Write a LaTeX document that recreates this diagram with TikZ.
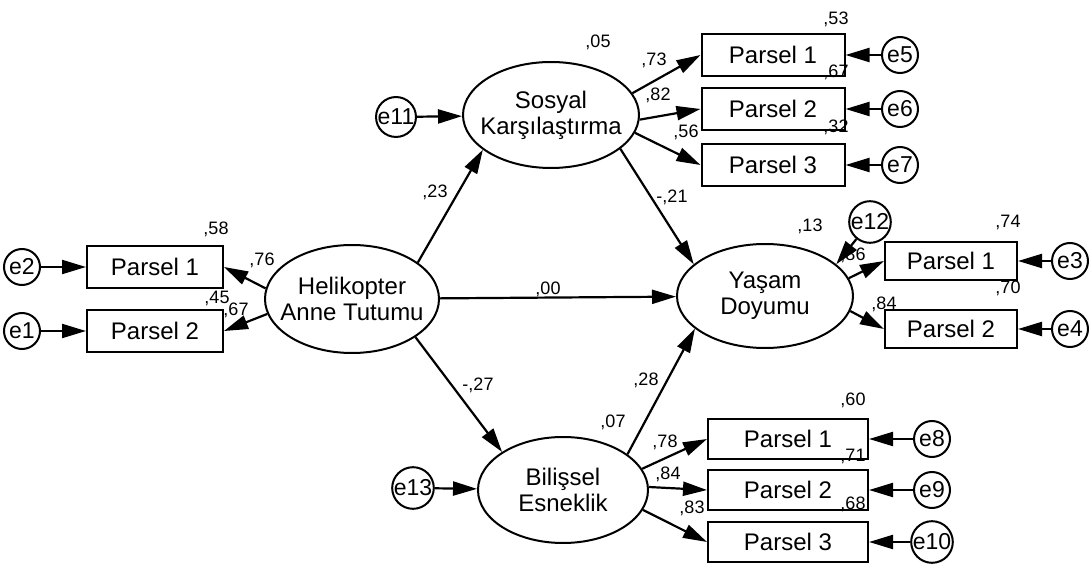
\documentclass[tikz,border=0pt]{standalone}
\usepackage{fontspec}
\setmainfont{Liberation Sans}
\usetikzlibrary{arrows.meta,shapes.geometric}

\begin{document}
\begin{tikzpicture}[x=0.5pt,y=-0.5pt,
	latent/.style={draw,ellipse,line width=1pt,align=center,inner xsep=-45pt,inner ysep=0pt,font=\fontsize{12}{13}\selectfont},
	obs/.style={draw,rectangle,line width=1pt,minimum width=68pt,minimum height=20pt,inner sep=0pt,font=\fontsize{12}{13}\selectfont},
	err/.style={draw,circle,line width=1pt,minimum size=18pt,inner sep=0pt,font=\fontsize{11.5}{12}\selectfont},
	coef/.style={inner sep=0pt,font=\fontsize{9}{10}\selectfont},
	arr/.style={line width=1.1pt,-{Triangle[length=12pt,width=7pt]}}]
		\path[use as bounding box] (0,0) rectangle (1089,567);
		
		% latent variables
		\node[latent,minimum width=87pt,minimum height=54pt] (hel) at (352,299) {Helikopter\\Anne Tutumu};
		\node[latent,minimum width=88pt,minimum height=53pt] (sos) at (551,115) {Sosyal\\Karşılaştırma};
		\node[latent,minimum width=88pt,minimum height=52pt] (yas) at (765,296) {Yaşam\\Doyumu};
		\node[latent,minimum width=85pt,minimum height=53pt] (bil) at (563,490) {Bilişsel\\Esneklik};
		
		% Helikopter Anne Tutumu
		\node[obs,minimum height=21pt] (hp1) at (155,267) {Parsel 1};
		\node[obs,minimum height=21pt] (hp2) at (155,331) {Parsel 2};
		\node[err] (e2) at (22,267) {e2};
		\node[err] (e1) at (22,331) {e1};
		\draw[arr] (e2) -- (hp1);
		\draw[arr] (e1) -- (hp2);
		\draw[arr] (hel.173) -- (hp1.east);
		\draw[arr] (hel.-170) -- (hp2.east);
		\node[coef] (r2hp1) at (216,229) {,58};
		\node[coef] (lhp1) at (262,260) {,76};
		\node[coef] (r2hp2) at (217,298) {,45};
		\node[coef] (lhp2) at (236,310) {,67};
		
		% Sosyal Karsilastirma
		\node[obs,minimum width=71.5pt,minimum height=21pt] (sp1) at (773,55) {Parsel 1};
		\node[obs,minimum width=71.5pt,minimum height=21pt] (sp2) at (773,109) {Parsel 2};
		\node[obs,minimum width=71.5pt,minimum height=21pt] (sp3) at (773,165) {Parsel 3};
		\node[err] (e5) at (900,55) {e5};
		\node[err] (e6) at (900,109) {e6};
		\node[err] (e7) at (900,165) {e7};
		\node[err] (e11) at (396,117) {e11};
		\draw[arr] (e5) -- (sp1);
		\draw[arr] (e6) -- (sp2);
		\draw[arr] (e7) -- (sp3);
		\draw[arr] (e11) -- (sos);
		\draw[arr] (sos.15) -- (sp1.west);
		\draw[arr] (sos.-3) -- (sp2.west);
		\draw[arr] (sos.-12) -- (sp3.west);
		\node[coef] (r2sos) at (598,42) {,05};
		\node[coef] (lsp1) at (654,60) {,73};
		\node[coef] (lsp2) at (658,95) {,82};
		\node[coef] (lsp3) at (686,132) {,56};
		\node[coef] (r2sp1) at (836,19) {,53};
		\node[coef] (r2sp2) at (836,72) {,67};
		\node[coef] (r2sp3) at (836,127) {,32};
		
		% Yasam Doyumu
		\node[obs,minimum width=66pt,minimum height=19pt] (yp1) at (951,261) {Parsel 1};
		\node[obs,minimum width=66pt,minimum height=19pt] (yp2) at (951,329) {Parsel 2};
		\node[err] (e3) at (1070,261) {e3};
		\node[err] (e4) at (1070,329) {e4};
		\node[err,minimum size=20pt] (e12) at (870,222) {e12};
		\draw[arr] (e3) -- (yp1);
		\draw[arr] (e4) -- (yp2);
		\draw[arr] (e12) -- (yas.24);
		\draw[arr] (yas.12) -- (yp1.west);
		\draw[arr] (yas.-10) -- (yp2.west);
		\node[coef] (r2yas) at (810,226) {,13};
		\node[coef] (lyp1) at (853,255) {,86};
		\node[coef] (lyp2) at (884,304) {,84};
		\node[coef] (r2yp1) at (1008,222) {,74};
		\node[coef] (r2yp2) at (1008,288) {,70};
		
		% Bilissel Esneklik
		\node[obs,minimum width=80pt] (bp1) at (788,439) {Parsel 1};
		\node[obs,minimum width=80pt] (bp2) at (788,490) {Parsel 2};
		\node[obs,minimum width=80pt] (bp3) at (788,542) {Parsel 3};
		\node[err] (e8) at (932,439) {e8};
		\node[err] (e9) at (932,490) {e9};
		\node[err] (e10) at (932,542) {e10};
		\node[err] (e13) at (413,488) {e13};
		\draw[arr] (e8) -- (bp1);
		\draw[arr] (e9) -- (bp2);
		\draw[arr] (e10) -- (bp3);
		\draw[arr] (e13) -- (bil);
		\draw[arr] (bil.15) -- (bp1.west);
		\draw[arr] (bil.2) -- (bp2.west);
		\draw[arr] (bil.-14) -- (bp3.west);
		\node[coef] (r2bil) at (613,422) {,07};
		\node[coef] (lbp1) at (665,442) {,78};
		\node[coef] (lbp2) at (668,474) {,84};
		\node[coef] (lbp3) at (692,508) {,83};
		\node[coef] (r2bp1) at (853,400) {,60};
		\node[coef] (r2bp2) at (853,456) {,71};
		\node[coef] (r2bp3) at (853,504) {,68};
		
		% structural paths
		\draw[arr] (hel.29) -- (sos.-153);
		\draw[arr] (hel.-31) -- (bil.148);
		\draw[arr] (hel) -- (yas);
		\draw[arr] (sos.-26) -- (yas.156);
		\draw[arr] (bil.29) -- (yas.205);
		\node[coef] (bhs) at (435,192) {,23};
		\node[coef] (bhb) at (478,385) {-,27};
		\node[coef] (bhy) at (548,289) {,00};
		\node[coef] (bsy) at (672,197) {-,21};
		\node[coef] (bby) at (646,380) {,28};
\end{tikzpicture}
\end{document}
